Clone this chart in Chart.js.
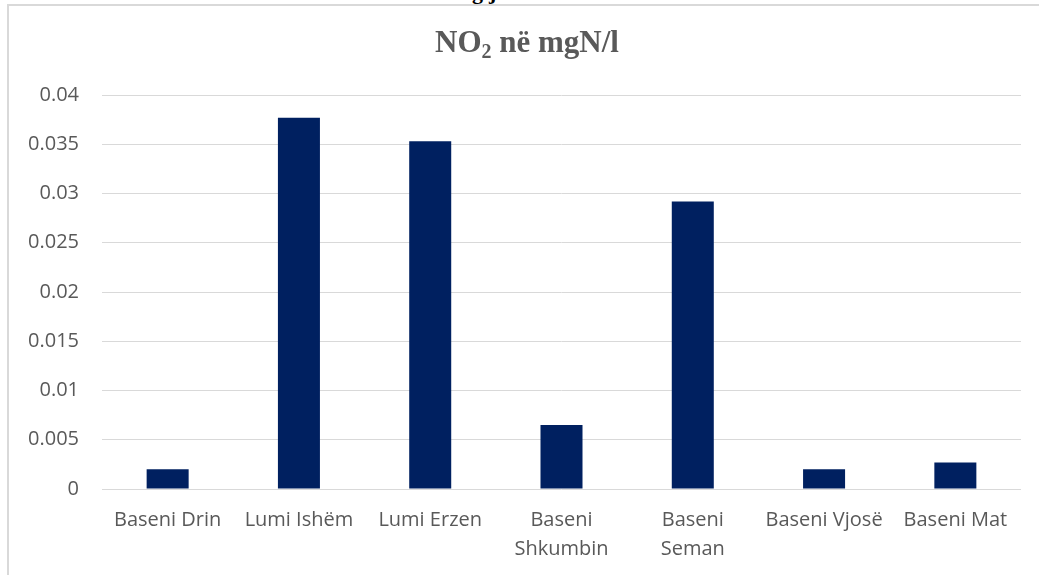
<!DOCTYPE html>
<html>
<head>
<meta charset="utf-8">
<script src="https://cdn.jsdelivr.net/npm/chart.js@4.4.1/dist/chart.umd.min.js"></script>
<style>
  html, body { margin: 0; padding: 0; background: #ffffff; overflow: hidden; }
  #wrap { position: relative; width: 1039px; height: 575px; }
  #card { position: absolute; left: 7px; top: 4px; width: 1100px; height: 700px;
          border-left: 2px solid #d9d9d9; border-top: 2px solid #d9d9d9; box-sizing: border-box; }
  #above { position: absolute; left: 472px; top: -19px; font: bold 22px "Liberation Serif", serif;
           color: #000; line-height: 22px; letter-spacing: 6px; white-space: nowrap; }
  #chart { position: absolute; left: 0; top: 0; }
</style>
</head>
<body>
<div id="wrap">
  <div id="card"></div>
  <div id="above">gj</div>
  <canvas id="chart" width="1039" height="575"></canvas>
</div>
<script>
// Monitoring areas
const categories = ['Baseni Drin', 'Lumi Ishëm', 'Lumi Erzen', ['Baseni', 'Shkumbin'], ['Baseni', 'Seman'], 'Baseni Vjosë', 'Baseni Mat'];
// NO2 concentration, mgN/l
const no2Values = [0.0020, 0.0377, 0.0353, 0.0065, 0.0292, 0.0020, 0.0027];
// Value axis labels
const yTickLabels = ['0', '0.005', '0.01', '0.015', '0.02', '0.025', '0.03', '0.035', '0.04'];

const TEXT = '#595959';
const GRID = '#d9d9d9';
const BAR = '#002060';
const TICK_FONT = 'Open Sans';

// Title with a subscript "2"
const titlePlugin = {
  id: 'subTitle',
  afterDraw(chart) {
    const ctx = chart.ctx;
    const size = 31;
    const subSize = 20;
    const parts = [
      { t: 'NO', f: `bold ${size}px "Liberation Serif"`, dy: 0 },
      { t: '2', f: `bold ${subSize}px "Liberation Serif"`, dy: 6 },
      { t: ' në mgN/l', f: `bold ${size}px "Liberation Serif"`, dy: 0 }
    ];
    ctx.save();
    let total = 0;
    parts.forEach(p => { ctx.font = p.f; p.w = ctx.measureText(p.t).width; total += p.w; });
    let x = 527 - total / 2;
    const baseY = 52;
    ctx.fillStyle = TEXT;
    ctx.textBaseline = 'alphabetic';
    ctx.textAlign = 'left';
    parts.forEach(p => { ctx.font = p.f; ctx.fillText(p.t, x, baseY + p.dy); x += p.w; });
    ctx.restore();
  }
};

new Chart(document.getElementById('chart'), {
  type: 'bar',
  data: {
    labels: categories,
    datasets: [{
      data: no2Values,
      backgroundColor: BAR,
      borderWidth: 0,
      barPercentage: 1,
      categoryPercentage: 0.32
    }]
  },
  options: {
    responsive: false,
    animation: false,
    devicePixelRatio: 1,
    layout: { padding: { left: 0, top: 95, right: 18, bottom: 0 } },
    plugins: { legend: { display: false }, title: { display: false }, tooltip: { enabled: false } },
    scales: {
      x: {
        grid: { display: false, drawTicks: false },
        border: { display: false },
        ticks: {
          color: TEXT,
          font: { family: TICK_FONT, size: 20, lineHeight: 1.45 },
          padding: 17,
          maxRotation: 0,
          autoSkip: false
        },
        afterFit(scale) { scale.height = 575 - 489; }
      },
      y: {
        min: 0,
        max: 0.04,
        grid: { color: GRID, lineWidth: 1, drawTicks: false },
        border: { display: false },
        ticks: {
          stepSize: 0.005,
          color: TEXT,
          font: { family: TICK_FONT, size: 20 },
          padding: 23,
          callback: (v, i) => yTickLabels[i]
        },
        afterFit(scale) { scale.width = 102; }
      }
    }
  },
  plugins: [titlePlugin]
});
</script>
</body>
</html>
